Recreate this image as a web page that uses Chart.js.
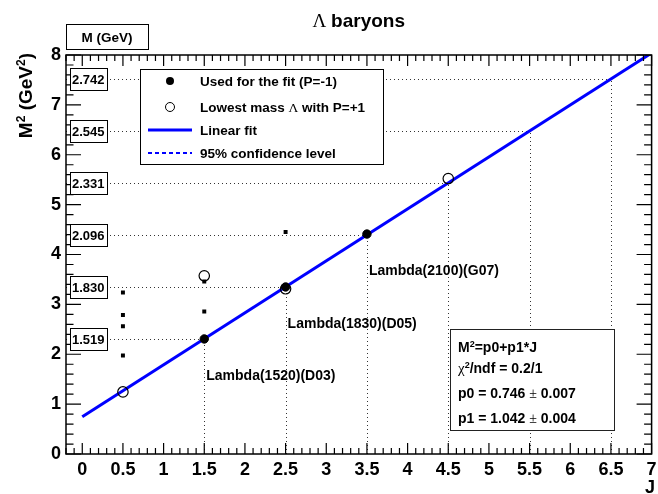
<!DOCTYPE html>
<html>
<head>
<meta charset="utf-8">
<script src="https://cdn.jsdelivr.net/npm/chart.js@4.4.1/dist/chart.umd.min.js"></script>
<style>
  html, body { margin: 0; padding: 0; background: #fff; }
</style>
</head>
<body>
<canvas id="chart" width="658" height="494"></canvas>
<script>
// fit parameters
const p0 = 0.746, p1 = 1.042;
const fitLineJ = [0, 7];

// states used for the fit (P=-1)
const fitJ = [1.5, 2.5, 3.5];
const fitM2 = [2.307, 3.349, 4.410];
const fitNames = ['Lambda(1520)(D03)', 'Lambda(1830)(D05)', 'Lambda(2100)(G07)'];

// lowest mass Lambda with P=+1
const posJ = [0.5, 1.5, 2.5, 4.5];
const posM2 = [1.245, 3.572, 3.312, 5.523];

// other states
const otherJ = [0.5, 0.5, 0.5, 0.5, 1.5, 1.5, 2.5];
const otherM2 = [1.974, 2.560, 2.789, 3.240, 2.856, 3.460, 4.452];

// fit predictions
const predJ = [1.5, 2.5, 3.5, 4.5, 5.5, 6.5];
const predMass = ['1.519', '1.830', '2.096', '2.331', '2.545', '2.742'];

const xTicks = [0, 0.5, 1, 1.5, 2, 2.5, 3, 3.5, 4, 4.5, 5, 5.5, 6, 6.5, 7];
const yTicks = [0, 1, 2, 3, 4, 5, 6, 7, 8];

const SANS = '"Liberation Sans", Arial, Helvetica, sans-serif';
const SERIF = '"Liberation Serif", "Times New Roman", serif';

const pts = (xs, ys) => xs.map((v, i) => ({ x: v, y: ys[i] }));

// draw a run of text segments, each with its own font and vertical shift
function rich(ctx, x, y, segs) {
  segs.forEach(s => {
    ctx.font = s.f;
    ctx.fillText(s.t, x, y + (s.dy || 0));
    x += ctx.measureText(s.t).width;
  });
}
function richWidth(ctx, segs) {
  let w = 0;
  segs.forEach(s => { ctx.font = s.f; w += ctx.measureText(s.t).width; });
  return w;
}

const decorations = {
  id: 'decorations',
  beforeDatasetsDraw(chart) {
    const { ctx, chartArea: a, scales: { x, y } } = chart;
    ctx.save();
    ctx.strokeStyle = '#333';
    ctx.lineWidth = 1;
    ctx.setLineDash([1, 3]);
    predJ.forEach((j, i) => {
      const m2 = Math.pow(parseFloat(predMass[i]), 2);
      const px = Math.round(x.getPixelForValue(j)) + 0.5;
      const py = Math.round(y.getPixelForValue(m2)) + 0.5;
      ctx.beginPath();
      ctx.moveTo(a.left, py); ctx.lineTo(px, py);
      ctx.moveTo(px, a.bottom); ctx.lineTo(px, py);
      ctx.stroke();
    });
    ctx.restore();
  },
  afterDatasetsDraw(chart) {
    const { ctx, chartArea: a, scales: { x, y } } = chart;
    ctx.save();

    // frame and inward ticks
    ctx.strokeStyle = '#000';
    ctx.lineWidth = 1.5;
    ctx.strokeRect(a.left, a.top, a.right - a.left, a.bottom - a.top);
    ctx.lineWidth = 1.2;
    ctx.beginPath();
    for (let k = -2; k <= 70; k++) {
      const v = k / 10;
      const px = x.getPixelForValue(v);
      const len = (k % 5 === 0) ? 11 : 6;
      ctx.moveTo(px, a.bottom); ctx.lineTo(px, a.bottom - len);
      ctx.moveTo(px, a.top); ctx.lineTo(px, a.top + len);
    }
    for (let k = 0; k <= 40; k++) {
      const v = k / 5;
      const py = y.getPixelForValue(v);
      const len = (k % 5 === 0) ? 15 : 7.5;
      ctx.moveTo(a.left, py); ctx.lineTo(a.left + len, py);
      ctx.moveTo(a.right, py); ctx.lineTo(a.right - len, py);
    }
    ctx.stroke();

    ctx.fillStyle = '#000';
    ctx.textBaseline = 'alphabetic';

    // state labels
    ctx.font = 'bold 14px ' + SANS;
    fitJ.forEach((j, i) => {
      ctx.fillText(fitNames[i], x.getPixelForValue(j) + 2, y.getPixelForValue(fitM2[i]) + 41);
    });

    // mass boxes on the left
    ctx.lineWidth = 1;
    predMass.forEach(m => {
      const py = y.getPixelForValue(Math.pow(parseFloat(m), 2));
      ctx.fillStyle = '#fff';
      ctx.fillRect(70.5, Math.round(py) - 10.5, 37, 22);
      ctx.strokeRect(70.5, Math.round(py) - 10.5, 37, 22);
      ctx.fillStyle = '#000';
      ctx.font = 'bold 13px ' + SANS;
      ctx.textAlign = 'left';
      ctx.fillText(m, 72, Math.round(py) + 5);
    });

    // M (GeV) box
    ctx.fillStyle = '#fff';
    ctx.fillRect(66.5, 24.5, 82, 25);
    ctx.strokeRect(66.5, 24.5, 82, 25);
    ctx.fillStyle = '#000';
    ctx.font = 'bold 13.5px ' + SANS;
    ctx.textAlign = 'center';
    ctx.fillText('M (GeV)', 107, 42);
    ctx.textAlign = 'left';

    // legend
    ctx.fillStyle = '#fff';
    ctx.fillRect(140.5, 69.5, 243, 95);
    ctx.strokeRect(140.5, 69.5, 243, 95);
    ctx.fillStyle = '#000';
    ctx.beginPath(); ctx.arc(170, 81, 4, 0, 2 * Math.PI); ctx.fill();
    ctx.beginPath(); ctx.arc(170, 107, 4.5, 0, 2 * Math.PI); ctx.stroke();
    ctx.strokeStyle = '#0000ff';
    ctx.lineWidth = 3;
    ctx.beginPath(); ctx.moveTo(148, 130); ctx.lineTo(192, 130); ctx.stroke();
    ctx.lineWidth = 2;
    ctx.setLineDash([4, 3]);
    ctx.beginPath(); ctx.moveTo(148, 153); ctx.lineTo(192, 153); ctx.stroke();
    ctx.setLineDash([]);
    const LF = 'bold 13.5px ' + SANS;
    rich(ctx, 200, 86, [{ t: 'Used for the fit (P=-1)', f: LF }]);
    rich(ctx, 200, 112, [{ t: 'Lowest mass ', f: LF }, { t: 'Λ', f: '13.5px ' + SERIF }, { t: ' with P=+1', f: LF }]);
    rich(ctx, 200, 135, [{ t: 'Linear fit', f: LF }]);
    rich(ctx, 200, 158, [{ t: '95% confidence level', f: LF }]);

    // fit statistics box
    ctx.strokeStyle = '#222';
    ctx.lineWidth = 1;
    ctx.fillStyle = '#fff';
    ctx.fillRect(450.5, 329.5, 164, 101);
    ctx.strokeRect(450.5, 329.5, 164, 101);
    ctx.fillStyle = '#000';
    const SF = 'bold 14px ' + SANS;
    const SUP = 'bold 9px ' + SANS;
    rich(ctx, 458, 352, [{ t: 'M', f: SF }, { t: '2', f: SUP, dy: -5 }, { t: '=p0+p1*J', f: SF }]);
    rich(ctx, 458, 373, [{ t: 'χ', f: '15px ' + SERIF }, { t: '2', f: SUP, dy: -5 }, { t: '/ndf = 0.2/1', f: SF }]);
    rich(ctx, 458, 398, [{ t: 'p0 = 0.746 ', f: SF }, { t: '±', f: '14px ' + SERIF }, { t: ' 0.007', f: SF }]);
    rich(ctx, 458, 423, [{ t: 'p1 = 1.042 ', f: SF }, { t: '±', f: '14px ' + SERIF }, { t: ' 0.004', f: SF }]);

    // title
    const titleSegs = [{ t: 'Λ ', f: '19px ' + SERIF }, { t: 'baryons', f: 'bold 19px ' + SANS }];
    const tw = richWidth(ctx, titleSegs);
    rich(ctx, (a.left + a.right) / 2 - tw / 2, 27, titleSegs);

    // axis titles
    ctx.font = 'bold 18px ' + SANS;
    ctx.textAlign = 'right';
    ctx.fillText('J', 655, 493);
    ctx.textAlign = 'left';
    const ySegs = [{ t: 'M', f: 'bold 19px ' + SANS }, { t: '2', f: 'bold 12px ' + SANS, dy: -7 },
                   { t: ' (GeV', f: 'bold 19px ' + SANS }, { t: '2', f: 'bold 12px ' + SANS, dy: -7 },
                   { t: ')', f: 'bold 19px ' + SANS }];
    const yw = richWidth(ctx, ySegs);
    ctx.translate(32, 53 + yw);
    ctx.rotate(-Math.PI / 2);
    rich(ctx, 0, 0, ySegs);

    ctx.restore();
  }
};

new Chart(document.getElementById('chart'), {
  type: 'scatter',
  data: {
    datasets: [
      {
        label: 'Used for the fit (P=-1)',
        data: pts(fitJ, fitM2),
        pointRadius: 4.2,
        pointBackgroundColor: '#000',
        pointBorderColor: '#000',
        order: 0
      },
      {
        label: 'Lowest mass Λ with P=+1',
        data: pts(posJ, posM2),
        pointRadius: 5.2,
        pointBackgroundColor: 'rgba(0,0,0,0)',
        pointBorderColor: '#000',
        pointBorderWidth: 1.2,
        order: 1
      },
      {
        label: 'other',
        data: pts(otherJ, otherM2),
        pointStyle: 'rect',
        pointRadius: 2.8,
        pointBackgroundColor: '#000',
        pointBorderColor: '#000',
        pointBorderWidth: 0,
        order: 2
      },
      {
        type: 'line',
        label: 'Linear fit',
        data: fitLineJ.map(j => ({ x: j, y: p0 + p1 * j })),
        borderColor: '#0000ff',
        borderWidth: 3,
        pointRadius: 0,
        fill: false,
        order: 3
      }
    ]
  },
  options: {
    responsive: false,
    animation: false,
    devicePixelRatio: 1,
    layout: { padding: { left: 0, top: 55, right: 3, bottom: 0 } },
    plugins: {
      legend: { display: false },
      tooltip: { enabled: false },
      title: { display: false }
    },
    scales: {
      x: {
        type: 'linear',
        min: -0.2,
        max: 7,
        grid: { display: false },
        border: { display: false },
        afterBuildTicks: s => { s.ticks = xTicks.map(v => ({ value: v })); },
        afterFit: s => { s.height = 40; },
        ticks: {
          color: '#000',
          padding: -3,
          maxRotation: 0,
          autoSkip: false,
          font: { family: SANS, size: 18, weight: 'bold' },
          callback: v => String(v)
        }
      },
      y: {
        type: 'linear',
        min: 0,
        max: 8,
        grid: { display: false },
        border: { display: false },
        afterBuildTicks: s => { s.ticks = yTicks.map(v => ({ value: v })); },
        afterFit: s => { s.width = 66; },
        ticks: {
          color: '#000',
          padding: -3,
          font: { family: SANS, size: 18, weight: 'bold' },
          callback: v => String(v)
        }
      }
    }
  },
  plugins: [decorations]
});
</script>
</body>
</html>
